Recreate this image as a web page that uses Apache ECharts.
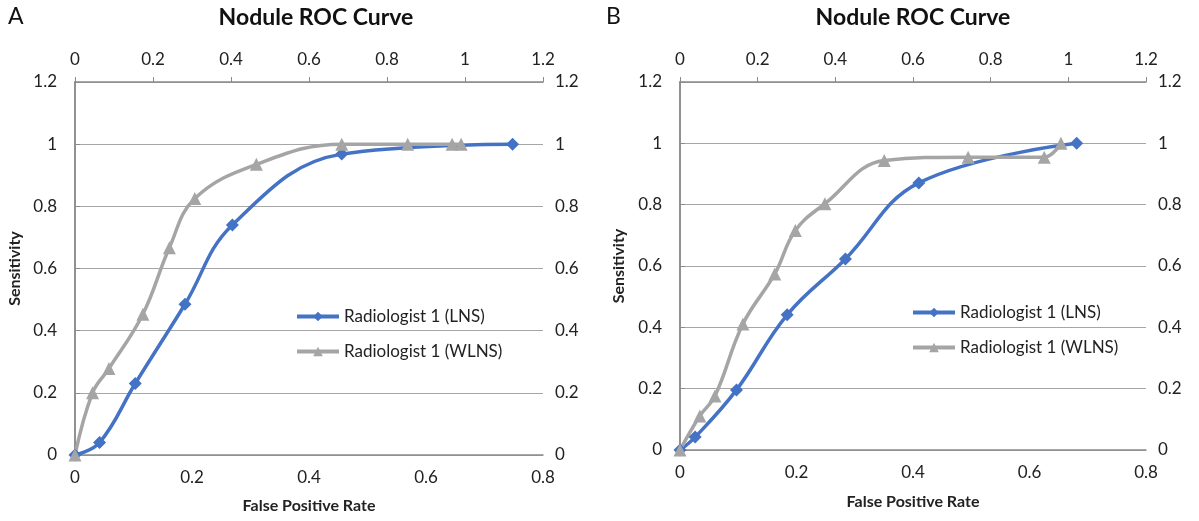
<!DOCTYPE html>
<html>
<head>
<meta charset="utf-8">
<script src="https://cdn.jsdelivr.net/npm/echarts@6/dist/echarts.min.js"></script>
<style>
  html, body { margin: 0; padding: 0; background: #fff; }
  #main { width: 1199px; height: 521px; }
</style>
</head>
<body>
<div id="main"></div>
<script>
// panel A
var lnsA_x = [0, 0.042, 0.103, 0.188, 0.269, 0.456, 0.748];
var lnsA_y = [0, 0.04, 0.23, 0.485, 0.74, 0.968, 1.0];
var wlnsA_x = [0, 0.045, 0.087, 0.174, 0.242, 0.307, 0.465, 0.684, 0.853, 0.967, 0.99];
var wlnsA_y = [0, 0.2, 0.278, 0.453, 0.667, 0.825, 0.935, 1.0, 1.0, 1.0, 1.0];

// panel B
var lnsB_x = [0, 0.026, 0.097, 0.184, 0.284, 0.41, 0.681];
var lnsB_y = [0, 0.042, 0.196, 0.441, 0.623, 0.871, 1.0];
var wlnsB_x = [0, 0.051, 0.09, 0.162, 0.244, 0.297, 0.373, 0.526, 0.742, 0.938, 0.981];
var wlnsB_y = [0, 0.111, 0.176, 0.411, 0.574, 0.716, 0.803, 0.944, 0.955, 0.955, 1.0];

var seriesNames = ['Radiologist 1 (LNS)', 'Radiologist 1 (WLNS)'];
var panelLabels = ['A', 'B'];
var chartTitle = 'Nodule ROC Curve';
var xName = 'False Positive Rate';
var yName = 'Sensitivity';

var FONT = 'Lato';
var axisColor = '#8a8a8a';
var textColor = '#222';

function pairs(xs, ys) {
    var out = [];
    for (var i = 0; i < xs.length; i++) out.push([xs[i], ys[i]]);
    return out;
}
function fmt(v) { return String(+v.toFixed(1)); }

function xBottom(grid, gap) {
    return {
        gridIndex: grid, type: 'value', position: 'bottom',
        min: 0, max: 0.8, interval: 0.2,
        name: xName, nameLocation: 'middle', nameGap: gap,
        nameTextStyle: { fontFamily: FONT, fontWeight: 'bold', fontSize: 16, color: textColor },
        axisLine: { show: true, lineStyle: { color: axisColor, width: 1.5 } },
        axisTick: { show: false },
        axisLabel: { formatter: fmt, fontFamily: FONT, fontSize: 17, color: textColor, margin: 14 },
        splitLine: { show: false }
    };
}
function xTop(grid) {
    return {
        gridIndex: grid, type: 'value', position: 'top',
        min: 0, max: 1.2, interval: 0.2,
        axisLine: { show: true, onZero: false, lineStyle: { color: axisColor, width: 1.5 } },
        axisTick: { show: true, length: 5, lineStyle: { color: axisColor } },
        axisLabel: { formatter: fmt, fontFamily: FONT, fontSize: 17, color: textColor, margin: 14 },
        splitLine: { show: false }
    };
}
function yLeft(grid, gap) {
    return {
        gridIndex: grid, type: 'value', position: 'left',
        min: 0, max: 1.2, interval: 0.2,
        name: yName, nameLocation: 'middle', nameGap: gap, nameRotate: 90,
        nameTextStyle: { fontFamily: FONT, fontWeight: 'bold', fontSize: 16, color: textColor },
        axisLine: { show: true, lineStyle: { color: axisColor, width: 1.5 } },
        axisTick: { show: false },
        axisLabel: { formatter: fmt, fontFamily: FONT, fontSize: 17, color: textColor, margin: 18 },
        splitLine: { show: true, lineStyle: { color: '#a6a6a6', width: 1.2 } }
    };
}
function yRight(grid) {
    return {
        gridIndex: grid, type: 'value', position: 'right',
        min: 0, max: 1.2, interval: 0.2,
        axisLine: { show: true, lineStyle: { color: axisColor, width: 1.5 } },
        axisTick: { show: true, length: 5, lineStyle: { color: axisColor } },
        axisLabel: { formatter: fmt, fontFamily: FONT, fontSize: 17, color: textColor, margin: 12 },
        splitLine: { show: false }
    };
}

function lns(grid, data) {
    return {
        name: seriesNames[0], type: 'line',
        xAxisIndex: grid * 2, yAxisIndex: grid * 2,
        data: data, smooth: 0.4,
        symbol: 'diamond', symbolSize: 13,
        lineStyle: { color: '#4472c4', width: 3.5 },
        itemStyle: { color: '#4472c4' }
    };
}
function wlns(grid, data) {
    return {
        name: seriesNames[1], type: 'line',
        xAxisIndex: grid * 2 + 1, yAxisIndex: grid * 2,
        data: data, smooth: 0.4,
        symbol: 'triangle', symbolSize: 13,
        lineStyle: { color: '#a5a5a5', width: 3.5 },
        itemStyle: { color: '#a5a5a5' }
    };
}

function legendAt(left, top) {
    return {
        data: seriesNames, orient: 'vertical', left: left, top: top,
        itemGap: 18, itemWidth: 42, itemHeight: 12,
        lineStyle: { width: 4 },
        textStyle: { fontFamily: FONT, fontSize: 17, color: textColor }
    };
}

var titleStyle = { fontFamily: FONT, fontWeight: 'bold', fontSize: 23, color: '#111' };
var letterStyle = { fontFamily: FONT, fontWeight: 'normal', fontSize: 23, color: '#111' };

var option = {
    backgroundColor: '#fff',
    animation: false,
    title: [
        { text: panelLabels[0], left: 3, top: 0, textStyle: letterStyle },
        { text: chartTitle, left: 311, top: 1, textAlign: 'center', textStyle: titleStyle },
        { text: panelLabels[1], left: 601, top: 0, textStyle: letterStyle },
        { text: chartTitle, left: 908, top: 1, textAlign: 'center', textStyle: titleStyle }
    ],
    legend: [legendAt(290, 303), legendAt(906, 299)],
    grid: [
        { left: 75, right: 656, top: 82, bottom: 66 },
        { left: 680, right: 53, top: 82, bottom: 71 }
    ],
    xAxis: [xBottom(0, 43), xTop(0), xBottom(1, 44), xTop(1)],
    yAxis: [yLeft(0, 52), yRight(0), yLeft(1, 53), yRight(1)],
    series: [
        lns(0, pairs(lnsA_x, lnsA_y)),
        wlns(0, pairs(wlnsA_x, wlnsA_y)),
        lns(1, pairs(lnsB_x, lnsB_y)),
        wlns(1, pairs(wlnsB_x, wlnsB_y))
    ]
};

var myChart = echarts.init(document.getElementById('main'));
myChart.setOption(option);
</script>
</body>
</html>
